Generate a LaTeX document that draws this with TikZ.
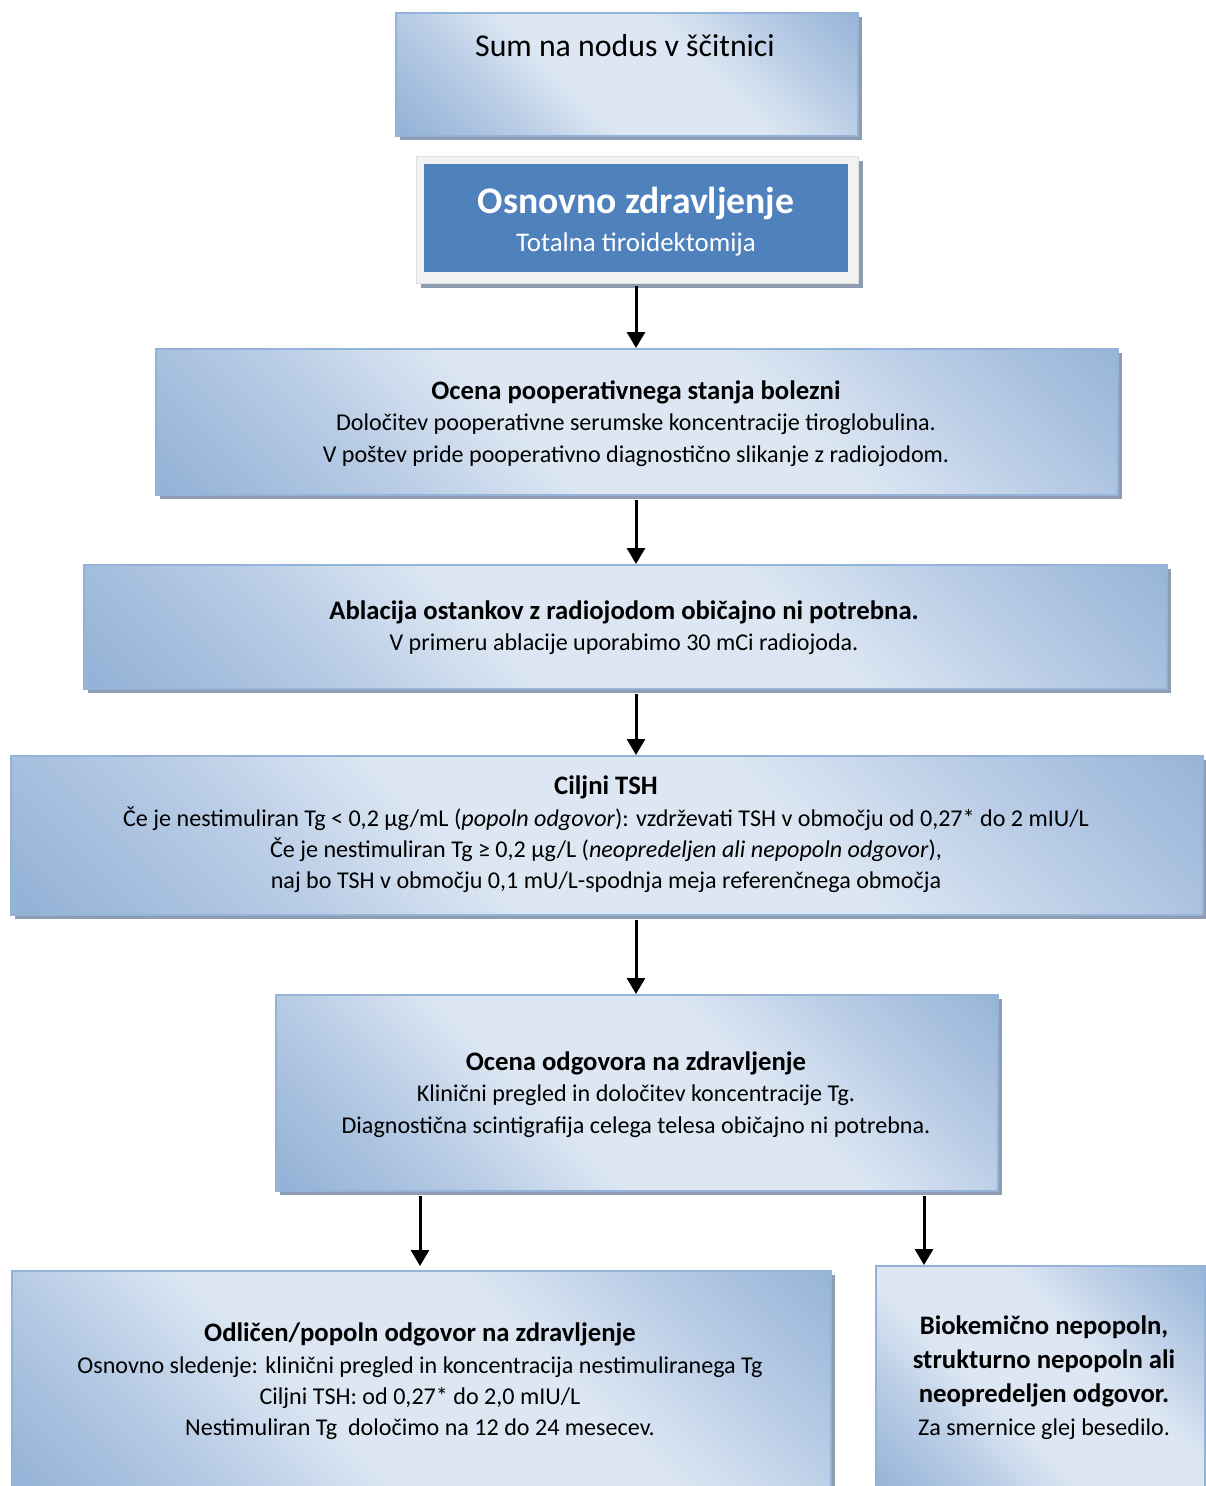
\documentclass[tikz,border=0pt]{standalone}
\usepackage{fontspec}
\setmainfont{Carlito}
\usetikzlibrary{shadows,arrows.meta}

\definecolor{dk}{RGB}{149,179,215}
\definecolor{md}{RGB}{183,203,229}
\definecolor{lt}{RGB}{221,231,243}
\definecolor{shd}{RGB}{141,156,177}
\definecolor{rim}{RGB}{149,179,215}
\definecolor{accent}{RGB}{79,129,189}
\definecolor{pale}{RGB}{242,242,242}

% diagonal light accent gradient used by all panels
\pgfdeclareverticalshading{panelgrad}{100bp}{%
  color(0bp)=(dk); color(16bp)=(dk); color(30bp)=(md); color(42bp)=(lt);
  color(60bp)=(lt); color(73bp)=(md); color(86bp)=(dk); color(100bp)=(dk)}

\newcommand\hd[1]{{\fontsize{26.7}{31.3}\selectfont\bfseries #1}}

\tikzset{
  panel/.style={draw=rim, line width=2pt, shading=panelgrad, shading angle=-45,
    drop shadow={shadow xshift=4pt, shadow yshift=-4pt, fill=shd, opacity=1},
    inner sep=0pt, anchor=north west},
  txt/.style={align=center, inner sep=0pt, font=\fontsize{24.1}{31.3}\selectfont},
  arr/.style={line width=3pt, -{Triangle[width=18pt,length=16pt]}},
}

\begin{document}
\begin{tikzpicture}[x=1pt, y=-1pt]
\path[use as bounding box] (0,0) rectangle (1205,1486);

\coordinate (midX) at (636,0);
\coordinate (leftX) at (420,0);
\coordinate (rightX) at (924,0);

% top panel
\node[panel, minimum width=462pt, minimum height=123pt] (sum) at (395,12) {};
\node[txt, font=\fontsize{31.8}{38}\selectfont] (sumT) at (625,46) {Sum na nodus v ščitnici};

% primary treatment
\node[fill=pale, draw=black!12, line width=1pt, anchor=north west,
      drop shadow={shadow xshift=4pt, shadow yshift=-4pt, fill=shd, opacity=1},
      minimum width=442pt, minimum height=127pt] (base) at (416,156) {};
\node[fill=accent, anchor=north west, minimum width=424pt, minimum height=108pt] (baseIn) at (424,164) {};
\node[txt, text=white, font=\bfseries\fontsize{37.6}{44}\selectfont] (baseT) at (636,203) {Osnovno zdravljenje};
\node[txt, text=white, font=\fontsize{26.9}{32}\selectfont] (baseS) at (636,244) {Totalna tiroidektomija};

% postoperative assessment
\node[panel, minimum width=962pt, minimum height=146pt] (post) at (155,348) {};
\node[txt] (postT) at (636,423.5) {\hd{Ocena pooperativnega stanja bolezni}\\
  Določitev pooperativne serumske koncentracije tiroglobulina.\\
  V poštev pride pooperativno diagnostično slikanje z radiojodom.};

% remnant ablation
\node[panel, minimum width=1083pt, minimum height=124pt] (abl) at (83,564) {};
\node[txt] (ablT) at (624,627.5) {\hd{Ablacija ostankov z radiojodom običajno ni potrebna.}\\
  V primeru ablacije uporabimo 30 mCi radiojoda.};

% TSH target
\node[panel, minimum width=1192pt, minimum height=159pt] (tsh) at (10,755) {};
\node[txt] (tshT) at (606,834.5) {\hd{Ciljni TSH}\\
  Če je nestimuliran Tg < 0,2 µg/mL (\textit{popoln odgovor}): vzdrževati TSH v območju od 0,27* do 2 mIU/L\\
  Če je nestimuliran Tg ≥ 0,2 µg/L (\textit{neopredeljen ali nepopoln odgovor}),\\
  naj bo TSH v območju 0,1 mU/L-spodnja meja referenčnega območja};

% response assessment
\node[panel, minimum width=722pt, minimum height=196pt] (resp) at (275,994) {};
\node[txt] (respT) at (636,1094.5) {\hd{Ocena odgovora na zdravljenje}\\
  Klinični pregled in določitev koncentracije Tg.\\
  Diagnostična scintigrafija celega telesa običajno ni potrebna.};

% excellent response
\node[panel, minimum width=819pt, minimum height=230pt] (exc) at (11,1270) {};
\node[txt] (excT) at (420,1381.5) {\hd{Odličen/popoln odgovor na zdravljenje}\\
  Osnovno sledenje: klinični pregled in koncentracija nestimuliranega Tg\\
  Ciljni TSH: od 0,27* do 2,0 mIU/L\\
  Nestimuliran Tg\ \ določimo na 12 do 24 mesecev.};

% incomplete response
\node[panel, minimum width=329pt, minimum height=235pt] (inc) at (875,1265) {};
\node[txt, font=\fontsize{24.1}{33.7}\selectfont] (incT) at (1044,1378) {\hd{Biokemično nepopoln,}\\
  \hd{strukturno nepopoln ali}\\
  \hd{neopredeljen odgovor.}\\
  Za smernice glej besedilo.};

% connectors
\draw[arr] ([yshift=-2pt]base.south -| midX) -- (post.north -| midX);
\draw[arr] ([yshift=-4pt]post.south -| midX) -- (abl.north -| midX);
\draw[arr] ([yshift=-4pt]abl.south -| midX) -- (tsh.north -| midX);
\draw[arr] ([yshift=-4pt]tsh.south -| midX) -- (resp.north -| midX);
\draw[arr] ([yshift=-4pt]resp.south -| leftX) -- ([yshift=4pt]exc.north -| leftX);
\draw[arr] ([yshift=-4pt]resp.south -| rightX) -- (inc.north -| rightX);
\end{tikzpicture}
\end{document}
